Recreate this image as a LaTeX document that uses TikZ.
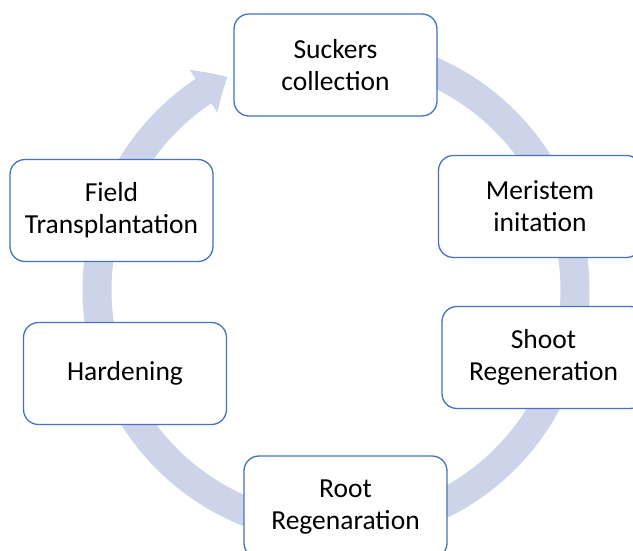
\documentclass[tikz,border=0pt]{standalone}
\usepackage{fontspec}
\setmainfont{Carlito}
\usetikzlibrary{arrows.meta, bending, positioning}
\definecolor{borde}{RGB}{68,114,196}
\definecolor{lila}{RGB}{205,212,234}
\tikzset{
    etapa/.style={rectangle, rounded corners=15pt, draw=borde, line width=1.3pt,
        fill=white, minimum width=203pt, minimum height=102pt, align=center,
        font=\fontsize{27.5}{32}\selectfont},
    ciclo/.style={draw=lila, line width=29pt,
        -{Triangle[width=49pt, length=28pt, bend]}}}
\begin{document}
\begin{tikzpicture}[x=1pt, y=1pt]
                    \useasboundingbox (0,0) rectangle (633,550);
                    \clip (0,0) rectangle (633,550);
                    \coordinate (hub) at (336,260);

                    \draw[ciclo] (hub) ++(90:239) arc[start angle=90, end angle=-243, radius=239];

                    \node (suck) [etapa] at (335.5,485) {Suckers\\collection};
                    \node (meri) [etapa] at (540,343.5) {Meristem\\initation};
                    \node (shoot) [etapa] at (543.5,192.5) {Shoot\\Regeneration};
                    \node (root) [etapa] at (345.5,43) {Root\\Regenaration};
                    \node (hard) [etapa] at (125,176.5) {Hardening};
                    \node (field) [etapa] at (111.5,339.5) {Field\\Transplantation};
                \end{tikzpicture}
\end{document}
